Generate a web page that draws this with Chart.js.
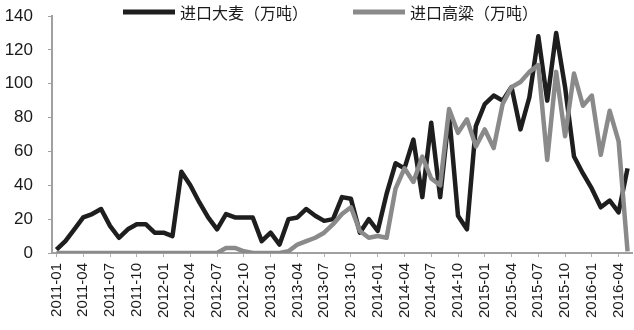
<!DOCTYPE html>
<html>
<head>
<meta charset="utf-8">
<script src="https://cdn.jsdelivr.net/npm/chart.js@4/dist/chart.umd.min.js"></script>
<style>
  html, body { margin: 0; padding: 0; background: #fff; }
  #wrap { width: 634px; height: 330px; position: relative; }
</style>
</head>
<body>
<div id="wrap"><canvas id="c" width="634" height="330"></canvas></div>
<script>
const months = [
  '2011-01','2011-02','2011-03','2011-04','2011-05','2011-06','2011-07','2011-08','2011-09','2011-10','2011-11','2011-12',
  '2012-01','2012-02','2012-03','2012-04','2012-05','2012-06','2012-07','2012-08','2012-09','2012-10','2012-11','2012-12',
  '2013-01','2013-02','2013-03','2013-04','2013-05','2013-06','2013-07','2013-08','2013-09','2013-10','2013-11','2013-12',
  '2014-01','2014-02','2014-03','2014-04','2014-05','2014-06','2014-07','2014-08','2014-09','2014-10','2014-11','2014-12',
  '2015-01','2015-02','2015-03','2015-04','2015-05','2015-06','2015-07','2015-08','2015-09','2015-10','2015-11','2015-12',
  '2016-01','2016-02','2016-03','2016-04','2016-05'
];
const barleyName = '进口大麦（万吨）';
const sorghumName = '进口高粱（万吨）';
const barley = [
  2, 7, 14, 21, 23, 26, 16, 9, 14, 17, 17, 12,
  12, 10, 48, 40, 30, 21, 14, 23, 21, 21, 21, 7,
  12, 5, 20, 21, 26, 22, 19, 20, 33, 32, 12, 20,
  13, 35, 53, 50, 67, 33, 77, 33, 82, 22, 14, 75,
  88, 93, 90, 98, 73, 92, 128, 90, 130, 98, 57, 47,
  38, 27, 31, 24, 50
];
const sorghum = [
  0, 0, 0, 0, 0, 0, 0, 0, 0, 0, 0, 0,
  0, 0, 0, 0, 0, 0, 0, 3, 3, 1, 0, 0,
  0, 0, 1, 5, 7, 9, 12, 17, 23, 27, 13, 9,
  10, 9, 38, 50, 42, 57, 44, 40, 85, 71, 79, 63,
  73, 62, 88, 98, 101, 107, 111, 55, 107, 69, 106, 87,
  93, 58, 84, 66, 1
];
const yTicks = [0, 20, 40, 60, 80, 100, 120, 140];

const FONT = '"Liberation Sans", Arial, "Noto Sans CJK SC", sans-serif';
const CJK = '"Noto Sans CJK SC", "Liberation Sans", sans-serif';

const legendPlugin = {
  id: 'customLegend',
  afterDraw(chart) {
    const ctx = chart.ctx;
    const items = chart.data.datasets;
    ctx.save();
    ctx.font = '16px ' + CJK;
    ctx.textBaseline = 'middle';
    const lineW = 52, gapText = 5, gapItem = 45, y = 12;
    let x = 123;
    items.forEach(ds => {
      ctx.strokeStyle = ds.borderColor;
      ctx.lineWidth = 5;
      ctx.beginPath();
      ctx.moveTo(x, y);
      ctx.lineTo(x + lineW, y);
      ctx.stroke();
      x += lineW + gapText;
      ctx.fillStyle = '#1a1a1a';
      ctx.fillText(ds.label, x, y + 1);
      x += ctx.measureText(ds.label).width + gapItem;
    });
    ctx.restore();
  }
};

new Chart(document.getElementById('c'), {
  type: 'line',
  data: {
    labels: months,
    datasets: [
      { label: barleyName, data: barley, borderColor: '#1e1e1e', backgroundColor: '#1e1e1e',
        borderWidth: 4.5, pointRadius: 0, tension: 0, order: 1, borderJoinStyle: 'round' },
      { label: sorghumName, data: sorghum, borderColor: '#8a8a8a', backgroundColor: '#8a8a8a',
        borderWidth: 4.5, pointRadius: 0, tension: 0, order: 0, borderJoinStyle: 'round' }
    ]
  },
  options: {
    responsive: false,
    animation: false,
    layout: { padding: { top: 16, right: 2, left: 0, bottom: 0 } },
    plugins: { legend: { display: false }, tooltip: { enabled: false } },
    scales: {
      x: {
        type: 'category',
        offset: true,
        border: { display: true, color: '#a0a0a0', width: 2 },
        grid: {
          display: true, drawOnChartArea: false, drawTicks: true, tickLength: 4, offset: false,
          color: c => (c.index % 3 === 0 ? '#b0b0b0' : 'rgba(0,0,0,0)')
        },
        ticks: {
          autoSkip: false, minRotation: 90, maxRotation: 90, padding: 6,
          color: '#1a1a1a', font: { size: 15, family: FONT },
          callback: (v, i) => (i % 3 === 0 ? months[i] : '')
        },
        afterFit: s => { s.height = 77; s.paddingLeft = 0; s.paddingRight = 0; }
      },
      y: {
        min: 0, max: 140,
        afterBuildTicks: s => { s.ticks = yTicks.map(v => ({ value: v })); },
        border: { display: true, color: '#a0a0a0', width: 2 },
        grid: { display: true, drawOnChartArea: false, drawTicks: true, tickLength: 4, color: '#a0a0a0' },
        ticks: { padding: 15, color: '#1a1a1a', font: { size: 17, family: FONT } },
        afterFit: s => { s.width = 52; s.paddingTop = 0; s.paddingBottom = 0; }
      }
    }
  },
  plugins: [legendPlugin]
});
</script>
</body>
</html>
